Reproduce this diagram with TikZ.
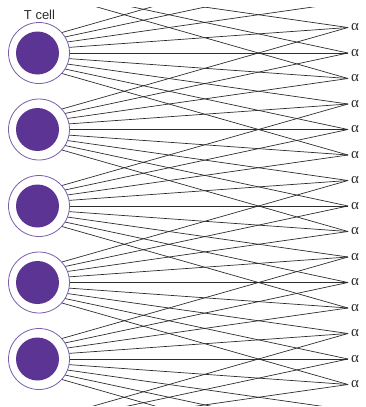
\documentclass[tikz,border=0pt]{standalone}
\usepackage{fontspec}
\setmainfont{Liberation Sans}
\newfontfamily\greekserif{Liberation Serif}
\definecolor{cellpurple}{RGB}{92,52,148}
\definecolor{ringpurple}{RGB}{122,96,168}
\definecolor{ink}{RGB}{45,45,45}
\begin{document}
\begin{tikzpicture}[x=1pt,y=-1pt,
  wire/.style={draw=ink, line width=0.7pt},
  cellring/.style={circle, draw=ringpurple, fill=white, line width=0.8pt, minimum size=61pt, inner sep=0pt},
  cellcore/.style={circle, fill=cellpurple, minimum size=43pt, inner sep=0pt},
  alphalabel/.style={anchor=west, inner sep=0pt, text=ink, font=\greekserif\fontsize{15}{17}\selectfont},
  celllabel/.style={inner sep=0pt, text=ink, font=\fontsize{13}{15}\selectfont}]
\useasboundingbox (0,0) rectangle (365,407);
% alpha end points (index 3 = first visible alpha)
\foreach \j in {0,...,20} \coordinate (a\j) at (348, 27.5+25.5*\j-76.5);
% line sources (cell rows)
\foreach \k in {0,...,6} \coordinate (s\k) at (-10, -23.5+76.5*\k);
\begin{scope}
\clip (38,7) rectangle (365,405);
\foreach \k in {0,...,6}{
  \foreach \o in {-4,...,4}{
    \pgfmathtruncatemacro\t{3*\k+1+\o}
    \ifnum\t>-1 \ifnum\t<21 \draw[wire] (s\k) -- (a\t); \fi\fi
  }}
\end{scope}
% cells
\foreach \k in {1,...,5}{
  \node[cellring] (ring\k) at (39, -23.5+76.5*\k) {};
  \node[cellcore] (core\k) at (37.5, -23.5+76.5*\k) {};
}
% alpha labels
\foreach \j in {3,...,17}
  \node[alphalabel] (lab\j) at (351, 27.5+25.5*\j-76.5) {α};
\node[celllabel] (tcell) at (39.5,15) {T cell};
\end{tikzpicture}
\end{document}
